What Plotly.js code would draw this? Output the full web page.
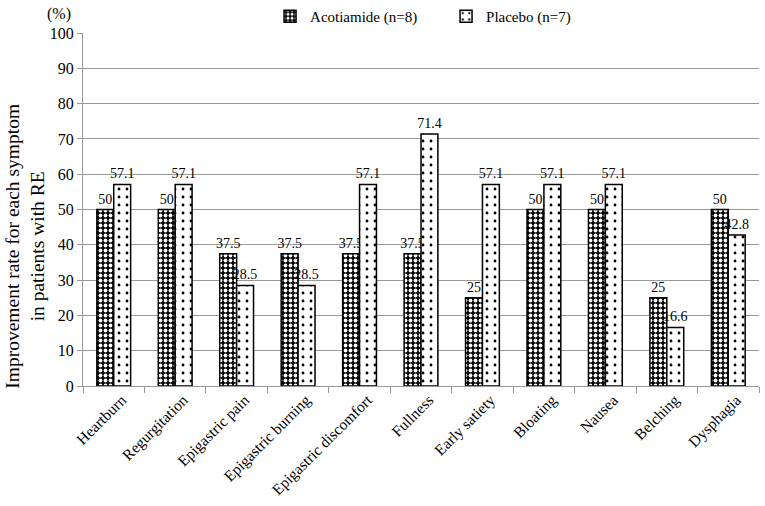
<!DOCTYPE html>
<html><head><meta charset="utf-8">
<script src="https://cdn.plot.ly/plotly-3.0.1.min.js"></script>
<style>html,body{margin:0;padding:0;background:#fff}</style>
</head><body><div id="chart" style="width:765px;height:506px"></div>
<script>
const categories = ["Heartburn","Regurgitation","Epigastric pain","Epigastric burning","Epigastric discomfort","Fullness","Early satiety","Bloating","Nausea","Belching","Dysphagia"];
const acotiamide = [50,50,37.5,37.5,37.5,37.5,25,50,50,25,50];
const placebo = [57.1,57.1,28.5,28.5,57.1,71.4,57.1,57.1,57.1,16.6,42.8];
const seriesNames = ["Acotiamide (n=8)","Placebo (n=7)"];
const yTitle = "Improvement rate for each symptom<br>in patients with RE";
const font = "Liberation Serif, Times New Roman, serif";

const traces = [
  {type:"bar", name:seriesNames[0], x:categories, y:acotiamide,
   text:acotiamide.map(String), textposition:"outside", cliponaxis:false,
   constraintext:"none", textangle:0,
   textfont:{family:font,size:14,color:"#000"},
   marker:{color:"#000", line:{color:"#000",width:1.5},
     pattern:{shape:".", fgcolor:"#fff", bgcolor:"#000", size:5, solidity:0.45}}},
  {type:"bar", name:seriesNames[1], x:categories, y:placebo,
   text:placebo.map(String), textposition:"outside", cliponaxis:false,
   constraintext:"none", textangle:0,
   textfont:{family:font,size:14,color:"#000"},
   marker:{color:"#fff", line:{color:"#000",width:1.5},
     pattern:{shape:".", fgcolor:"#000", bgcolor:"#fff", size:8, solidity:0.1}}}
];

const layout = {
  width:765, height:506,
  margin:{l:83, r:6, t:32, b:120},
  paper_bgcolor:"#fff", plot_bgcolor:"#fff",
  font:{family:font, size:14, color:"#000"},
  barmode:"group", bargap:0.45, bargroupgap:0,
  showlegend:true,
  legend:{orientation:"h", x:0.353, xanchor:"left", xref:"container", y:1.0, yanchor:"top", yref:"container",
    font:{family:font,size:15,color:"#000"}, entrywidth:131, itemwidth:30, bgcolor:"rgba(0,0,0,0)"},
  xaxis:{type:"category", tickangle:-45, showgrid:false, showline:true, linecolor:"#999", linewidth:1,
    ticks:"outside", ticklen:6, tickcolor:"#999", tickson:"boundaries",
    ticklabelshift:8, ticklabelstandoff:-2,
    tickfont:{family:font,size:15.5,color:"#000"}},
  yaxis:{range:[0,100], dtick:10, showgrid:true, gridcolor:"#999", gridwidth:1,
    showline:true, linecolor:"#999", linewidth:1, ticks:"outside", ticklen:5, tickcolor:"#999",
    tickfont:{family:font,size:16,color:"#000"}, zeroline:false},
  annotations:[
    {text:"(%)", xref:"paper", yref:"paper", x:-0.015, y:1.0, xanchor:"right", yanchor:"bottom",
     yshift:8, showarrow:false, font:{family:font,size:16,color:"#000"}},
    {text:yTitle, xref:"paper", yref:"paper", x:-0.087, y:0.395, xanchor:"center", yanchor:"middle",
     textangle:-90, showarrow:false, font:{family:font,size:19.5,color:"#000"}}
  ]
};
Plotly.newPlot("chart", traces, layout, {displayModeBar:false});
</script></body></html>
